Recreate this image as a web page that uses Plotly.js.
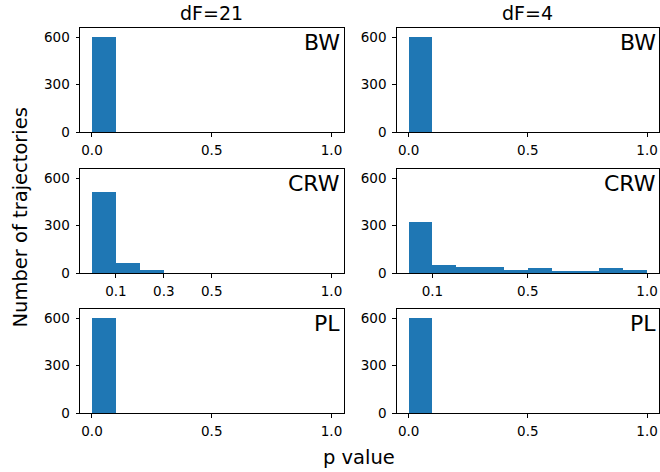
<!DOCTYPE html>
<html>
<head>
<meta charset="utf-8">
<script src="https://cdn.plot.ly/plotly-3.0.1.min.js"></script>
<style>html,body{margin:0;padding:0;background:#fff;}#chart{width:660px;height:472px;}</style>
</head>
<body>
<div id="chart"></div>
<script>
// ---- data ----
const binCenters = [0.05, 0.15, 0.25, 0.35, 0.45, 0.55, 0.65, 0.75, 0.85, 0.95];
const columnTitles = ["dF=21", "dF=4"];
const rowLabels = ["BW", "CRW", "PL"];
const countsBW_dF21  = [600, 0, 0, 0, 0, 0, 0, 0, 0, 0];
const countsBW_dF4   = [600, 0, 0, 0, 0, 0, 0, 0, 0, 0];
const countsCRW_dF21 = [510, 68, 20, 0, 0, 0, 0, 0, 0, 0];
const countsCRW_dF4  = [322, 51, 41, 37, 23, 31, 17, 17, 31, 21];
const countsPL_dF21  = [600, 0, 0, 0, 0, 0, 0, 0, 0, 0];
const countsPL_dF4   = [600, 0, 0, 0, 0, 0, 0, 0, 0, 0];
const yTickVals = [0, 300, 600];
const xTicksDefault = [0.0, 0.5, 1.0];
const xTickTextDefault = ["0.0", "0.5", "1.0"];
const xTicksCRW_dF21 = [0.1, 0.3, 0.5, 1.0];
const xTickTextCRW_dF21 = ["0.1", "0.3", "0.5", "1.0"];
const xTicksCRW_dF4 = [0.1, 0.5, 1.0];
const xTickTextCRW_dF4 = ["0.1", "0.5", "1.0"];
const xAxisTitle = "p value";
const yAxisTitle = "Number of trajectories";

// ---- layout geometry (pixels) ----
const W = 660, H = 472;
const colPx = [[80, 343.5], [396.7, 659]];
const rowPx = [[28.3, 132.3], [169.3, 273.3], [309.3, 413.3]];
const px = x => x / W;
const py = y => 1 - y / H;

const panels = [
  {counts: countsBW_dF21,  r: 0, c: 0, tv: xTicksDefault,  tt: xTickTextDefault},
  {counts: countsBW_dF4,   r: 0, c: 1, tv: xTicksDefault,  tt: xTickTextDefault},
  {counts: countsCRW_dF21, r: 1, c: 0, tv: xTicksCRW_dF21, tt: xTickTextCRW_dF21},
  {counts: countsCRW_dF4,  r: 1, c: 1, tv: xTicksCRW_dF4,  tt: xTickTextCRW_dF4},
  {counts: countsPL_dF21,  r: 2, c: 0, tv: xTicksDefault,  tt: xTickTextDefault},
  {counts: countsPL_dF4,   r: 2, c: 1, tv: xTicksDefault,  tt: xTickTextDefault}
];

const tickFont = {family: "DejaVu Sans", size: 13.5, color: "#000"};
const titleFont = {family: "DejaVu Sans", size: 19, color: "#000"};
const panelFont = {family: "DejaVu Sans", size: 22, color: "#000"};
const axisTitleFont = {family: "DejaVu Sans", size: 19.5, color: "#000"};

const data = [];
const layout = {
  width: W, height: H,
  margin: {l: 0, r: 0, t: 0, b: 0},
  paper_bgcolor: "#fff", plot_bgcolor: "#fff",
  showlegend: false,
  bargap: 0,
  annotations: []
};

panels.forEach((p, i) => {
  const n = i + 1;
  const xa = n === 1 ? "x" : "x" + n;
  const ya = n === 1 ? "y" : "y" + n;
  data.push({
    type: "bar",
    x: binCenters,
    y: p.counts,
    width: binCenters.map(() => 0.1),
    xaxis: xa, yaxis: ya,
    marker: {color: "#1f77b4", line: {width: 0}},
    hoverinfo: "x+y"
  });
  const common = {
    showline: true, mirror: true, linecolor: "#000", linewidth: 1,
    ticks: "outside", ticklen: 3.5, tickwidth: 1, tickcolor: "#000",
    showgrid: false, zeroline: false, tickfont: tickFont, fixedrange: true
  };
  layout[n === 1 ? "xaxis" : "xaxis" + n] = Object.assign({}, common, {
    domain: [px(colPx[p.c][0]), px(colPx[p.c][1])],
    range: [-0.05, 1.05],
    tickmode: "array", tickvals: p.tv, ticktext: p.tt,
    anchor: ya, ticklabelstandoff: 2
  });
  layout[n === 1 ? "yaxis" : "yaxis" + n] = Object.assign({}, common, {
    domain: [py(rowPx[p.r][1]), py(rowPx[p.r][0])],
    range: [0, 655],
    tickmode: "array", tickvals: yTickVals, ticktext: yTickVals.map(String),
    anchor: xa, ticklabelstandoff: 3
  });
  // panel label
  layout.annotations.push({
    text: rowLabels[p.r], xref: "paper", yref: "paper",
    x: px(colPx[p.c][1] - 1.5), y: py(rowPx[p.r][0] + 14),
    xanchor: "right", yanchor: "middle", showarrow: false, font: panelFont
  });
});

columnTitles.forEach((t, c) => {
  layout.annotations.push({
    text: t, xref: "paper", yref: "paper",
    x: px((colPx[c][0] + colPx[c][1]) / 2), y: py(13.5),
    xanchor: "center", yanchor: "middle", showarrow: false, font: titleFont
  });
});

layout.annotations.push({
  text: yAxisTitle, xref: "paper", yref: "paper",
  x: px(19.5), y: py(218), textangle: -90,
  xanchor: "center", yanchor: "middle", showarrow: false, font: axisTitleFont
});
layout.annotations.push({
  text: xAxisTitle, xref: "paper", yref: "paper",
  x: px(359), y: py(457),
  xanchor: "center", yanchor: "middle", showarrow: false, font: axisTitleFont
});

Plotly.newPlot("chart", data, layout, {staticPlot: true, displayModeBar: false});
</script>
</body>
</html>
